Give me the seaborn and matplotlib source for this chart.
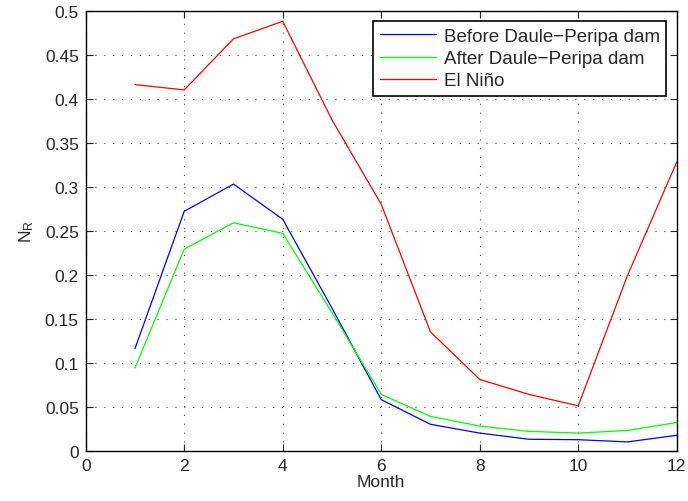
import matplotlib
matplotlib.use("Agg")
import matplotlib.pyplot as plt
import seaborn as sns
import pandas as pd

months = list(range(1, 13))
before_dam = [0.116, 0.272, 0.303, 0.263, 0.162, 0.058, 0.030, 0.020, 0.013, 0.0125, 0.010, 0.0175]
after_dam = [0.094, 0.229, 0.259, 0.247, 0.157, 0.064, 0.039, 0.028, 0.022, 0.020, 0.023, 0.032]
el_nino = [0.416, 0.410, 0.468, 0.488, 0.376, 0.280, 0.135, 0.081, 0.064, 0.051, 0.199, 0.328]
series_names = ["Before Daule\u2212Peripa dam", "After Daule\u2212Peripa dam", "El Niño"]
series_colors = ["#0000ff", "#00ff00", "#ff0000"]

df = pd.DataFrame({
    "Month": months * 3,
    "N_R": before_dam + after_dam + el_nino,
    "series": [series_names[0]] * 12 + [series_names[1]] * 12 + [series_names[2]] * 12,
})

sns.set_style("ticks")
plt.rcParams['font.family'] = ['Liberation Sans', 'DejaVu Sans']

fig = plt.figure(figsize=(6.88, 5.02), dpi=100)
ax = fig.add_axes([0.1246, 0.1002, 0.8590, 0.8765])

sns.lineplot(data=df, x="Month", y="N_R", hue="series", hue_order=series_names,
             palette=dict(zip(series_names, series_colors)), linewidth=0.9, ax=ax)

ax.set_xlim(0, 12)
ax.set_ylim(0, 0.5)
ax.set_xticks(range(0, 13, 2))
ax.set_yticks([i * 0.05 for i in range(11)])
ax.set_yticklabels(["0", "0.05", "0.1", "0.15", "0.2", "0.25", "0.3", "0.35", "0.4", "0.45", "0.5"])
ax.tick_params(direction="in", top=True, right=True, labelsize=12.5, length=5, width=0.8, pad=5)
ax.grid(True, color="#444444", linestyle=(0, (1, 7)), linewidth=0.8)
for sp in ax.spines.values():
    sp.set_visible(True)
    sp.set_linewidth(1.0)
    sp.set_color("black")

ax.set_xlabel("Month", fontsize=12.5, labelpad=1)
ax.set_ylabel(r"$\mathregular{N_R}$", fontsize=12.5, labelpad=6)

leg = ax.legend(loc="upper right", fontsize=13.5, frameon=True, fancybox=False,
                edgecolor="black", framealpha=1, borderpad=0.35, handlelength=3.0,
                handletextpad=0.4, labelspacing=0.28, borderaxespad=0.55)
leg.get_frame().set_linewidth(1.2)
leg.set_title(None)

fig.savefig("out.png", dpi=100)
